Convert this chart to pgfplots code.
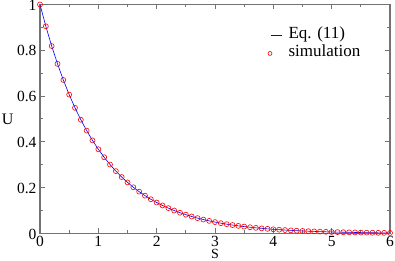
\documentclass[border=0pt]{standalone}
\usepackage{fontspec}
\setmainfont{Liberation Serif}
\usepackage{pgfplots}
\pgfplotsset{compat=1.18}
\usepackage{pgfplotstable}
\pgfplotsset{
  legline/.style={legend image code/.code={\draw[blue, line width=0.6pt] (-1.5pt,-0.6pt) -- (10pt,-0.6pt);}},
  legmark/.style={legend image code/.code={\draw[red, line width=0.6pt] (-2.2pt,-0.6pt) circle (2pt);}},
}
\pgfplotstableread{
s U
0.0 1.000000
0.1 0.904837
0.2 0.818731
0.3 0.740818
0.4 0.670320
0.5 0.606531
0.6 0.548812
0.7 0.496585
0.8 0.449329
0.9 0.406570
1.0 0.367879
1.1 0.332871
1.2 0.301194
1.3 0.272532
1.4 0.246597
1.5 0.223130
1.6 0.201897
1.7 0.182684
1.8 0.165299
1.9 0.149569
2.0 0.135335
2.1 0.122456
2.2 0.110803
2.3 0.100259
2.4 0.090718
2.5 0.082085
2.6 0.074274
2.7 0.067206
2.8 0.060810
2.9 0.055023
3.0 0.049787
3.1 0.045049
3.2 0.040762
3.3 0.036883
3.4 0.033373
3.5 0.030197
3.6 0.027324
3.7 0.024724
3.8 0.022371
3.9 0.020242
4.0 0.018316
4.1 0.016573
4.2 0.014996
4.3 0.013569
4.4 0.012277
4.5 0.011109
4.6 0.010052
4.7 0.009095
4.8 0.008230
4.9 0.007447
5.0 0.006738
5.1 0.006097
5.2 0.005517
5.3 0.004992
5.4 0.004517
5.5 0.004087
5.6 0.003698
5.7 0.003346
5.8 0.003028
5.9 0.002739
6.0 0.002479
}\datatable
\begin{document}
\begin{tikzpicture}
\begin{axis}[
  scale only axis,
  width=350pt, height=229pt,
  xmin=0, xmax=6, ymin=0, ymax=1,
  xtick={0,1,2,3,4,5,6},
  ytick={0,0.2,0.4,0.6,0.8,1},
  yticklabels={0,0.2,0.4,0.6,0.8,1},
  minor x tick num=1,
  minor y tick num=1,
  tick align=inside,
  major tick length=5pt,
  minor tick length=3pt,
  axis line style={draw=black!55, line width=1.4pt},
  every tick/.style={black!55, line width=1pt},
  tick label style={font=\fontsize{15.5}{17}\selectfont, inner sep=0pt},
  xticklabel style={anchor=base, yshift=-12.8pt},
  yticklabel style={anchor=east, xshift=-3.3pt, yshift=-0.6pt},
  /pgf/number format/assume math mode=true,
  xlabel={S}, ylabel={U},
  xlabel style={font=\fontsize{14}{16}\selectfont, inner sep=0pt,
    at={(axis description cs:0.5,0)}, anchor=base, yshift=-24.8pt},
  ylabel style={font=\fontsize{16}{18}\selectfont, inner sep=0pt,
    at={(axis description cs:0,0.5)}, rotate=-90, anchor=west, xshift=-38.3pt},
  legend style={draw=none, fill=none, at={(0.65,0.905)}, anchor=north west,
    font=\fontsize{17}{19}\selectfont, row sep=2.4pt, column sep=6pt, inner sep=0pt,
    nodes={inner sep=0pt, text height=12pt, text depth=4pt}},
  legend cell align=left,
]
\addplot[blue, line width=0.6pt, no markers, legline] table[x=s,y=U]{\datatable};
\addlegendentry{Eq. (11)}
\addplot[only marks, red, mark=o, mark size=2.5pt, mark options={line width=0.6pt}, legmark] table[x=s,y=U]{\datatable};
\addlegendentry{simulation}
\coordinate (BL) at (rel axis cs:0,0);
\coordinate (TR) at (rel axis cs:1,1);
\end{axis}
\pgfresetboundingbox
\path ([shift={(-40pt,-27.5pt)}]BL) rectangle ([shift={(5pt,4.5pt)}]TR);
\end{tikzpicture}
\end{document}
